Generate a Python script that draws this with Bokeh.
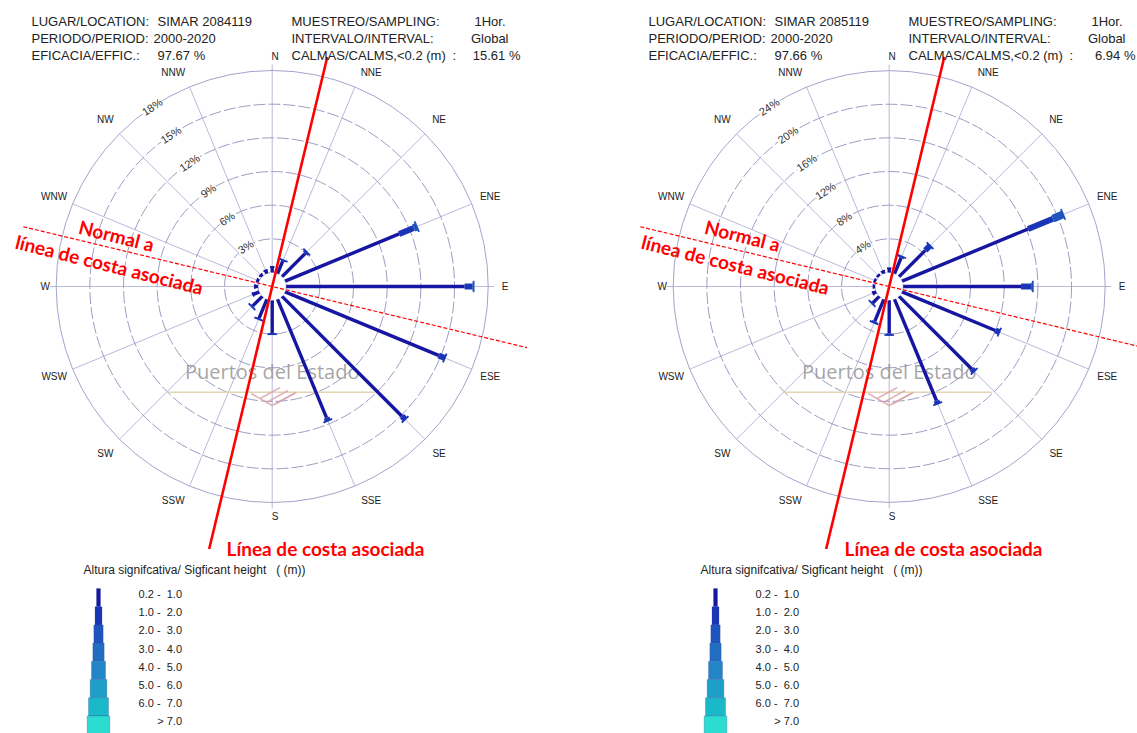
import math
from bokeh.plotting import figure
from bokeh.models import Range1d
from bokeh.embed import file_html
from bokeh.resources import INLINE
from bokeh.core.properties import value

# ---------------- data ----------------
directions = ["N", "NNE", "NE", "ENE", "E", "ESE", "SE", "SSE",
              "S", "SSW", "SW", "WSW", "W", "WNW", "NW", "NNW"]

NB = "\u00a0"
height_classes = ["0.2 -" + NB * 2 + "1.0", "1.0 -" + NB * 2 + "2.0", "2.0 -" + NB * 2 + "3.0",
                  "3.0 -" + NB * 2 + "4.0", "4.0 -" + NB * 2 + "5.0", "5.0 -" + NB * 2 + "6.0",
                  "6.0 -" + NB * 2 + "7.0", ">" + NB + "7.0"]
class_colors = ["#1616a2", "#1a36b6", "#1e54bd", "#216dc2", "#2285c6",
                "#1e9fc8", "#1ab9ca", "#2cdcd0"]

# Station 1 (left)
st1_location = "SIMAR 2084119"
st1_period = "2000-2020"
st1_efficacy = "97.67 %"
st1_sampling = "1Hor."
st1_interval = "Global"
st1_calms = "15.61 %"
st1_rings = [3, 6, 9, 12, 15, 18]
st1_hs_02_10 = [0.5, 1.2, 2.9, 11.0, 15.9, 14.8, 15.1, 11.4, 2.9, 1.8, 1.2, 0.6, 0.3, 0.2, 0.2, 0.3]
st1_hs_10_20 = [0.0, 0.1, 0.2, 1.4, 0.7, 0.6, 0.4, 0.3, 0.1, 0.1, 0.1, 0.0, 0.0, 0.0, 0.0, 0.0]
st1_hs_20_30 = [0.0, 0.0, 0.0, 0.3, 0.1, 0.0, 0.0, 0.0, 0.0, 0.0, 0.0, 0.0, 0.0, 0.0, 0.0, 0.0]

# Station 2 (right)
st2_location = "SIMAR 2085119"
st2_period = "2000-2020"
st2_efficacy = "97.66 %"
st2_sampling = "1Hor."
st2_interval = "Global"
st2_calms = "6.94 %"
st2_rings = [4, 8, 12, 16, 20, 24]
st2_hs_02_10 = [0.5, 2.0, 4.4, 16.2, 14.0, 12.0, 12.2, 13.0, 3.9, 2.8, 1.1, 0.4, 0.2, 0.2, 0.2, 0.3]
st2_hs_10_20 = [0.0, 0.2, 0.8, 3.2, 1.2, 0.5, 0.4, 0.4, 0.2, 0.2, 0.1, 0.0, 0.0, 0.0, 0.0, 0.0]
st2_hs_20_30 = [0.0, 0.0, 0.0, 1.3, 0.2, 0.0, 0.0, 0.0, 0.0, 0.0, 0.0, 0.0, 0.0, 0.0, 0.0, 0.0]

coast_bearing = 13.5  # associated coastline orientation (deg from N)

legend_title = "Altura signifcativa/ Sigficant height" + NB * 3 + "(" + NB + "(m))"

# ---------------- layout ----------------
W, H = 1137, 733
FONT = value("Liberation Sans")
RED_FONT = value("Lato")

p = figure(width=W, height=H, x_range=Range1d(0, W), y_range=Range1d(H, 0),
           output_backend="svg", toolbar_location=None, min_border=0,
           x_axis_type=None, y_axis_type=None)
p.outline_line_color = None
p.background_fill_color = "white"
p.border_fill_color = "white"

R0 = 14.0     # radius of calm circle
RMAX = 216.0  # outer ring radius
LEG_W = [4, 7, 9.3, 11.3, 14, 16.7, 20, 22.7]
BAR_W = [w * 0.85 for w in LEG_W]


def polar(cx, cy, b, r):
    a = math.radians(b)
    return cx + r * math.sin(a), cy - r * math.cos(a)


def label_pos(cx, cy, b):
    if b % 90 == 0:
        x, y = polar(cx, cy, b, 230)
        return x + 3, y
    bb = b
    if b in (22.5, 202.5):
        bb = b + 2.3
    elif b in (157.5, 337.5):
        bb = b - 2.3
    return polar(cx, cy, bb, 236)


def panel(off, info, rings, classes, annot):
    cx, cy = 271.7 + off, 286.0
    k = (RMAX - R0) / rings[-1]
    bearings = [i * 22.5 for i in range(len(directions))]

    # spokes
    xs0, ys0, xs1, ys1 = [], [], [], []
    for b in bearings:
        x0, y0 = polar(cx, cy, b, R0)
        ext = 6 if b % 90 == 0 else 0
        x1, y1 = polar(cx, cy, b, RMAX + ext)
        xs0.append(x0); ys0.append(y0); xs1.append(x1); ys1.append(y1)
    p.segment(xs0, ys0, xs1, ys1, line_color="#b9b9dc", line_width=1)

    # rings
    p.circle([cx], [cy], radius=R0, fill_color="white", line_color="#a8a8cc",
             line_width=1, line_dash="3 2")
    for rv in rings[:-1]:
        p.circle([cx], [cy], radius=R0 + k * rv, fill_color=None, line_color="#9c9cc4",
                 line_width=1, line_dash="12 3")
    p.circle([cx], [cy], radius=R0 + k * rings[-1], fill_color=None,
             line_color="#a4a4cc", line_width=1)

    # compass labels
    lx, ly = [], []
    for b in bearings:
        x, y = label_pos(cx, cy, b)
        lx.append(x); ly.append(y)
    p.text(lx, ly, text=directions, text_font=FONT, text_font_size="10px",
           text_color="#222222", text_align="center", text_baseline="middle")

    # ring labels
    rx, ry, rt = [], [], []
    for rv in rings:
        x, y = polar(cx, cy, -33.75, R0 + k * rv)
        rx.append(x); ry.append(y); rt.append(f"{rv}%")
    p.text(rx, ry, text=rt, angle=33.75, angle_units="deg", text_font=FONT,
           text_font_size="11px", text_color="#333333", text_align="center",
           text_baseline="middle", background_fill_color="white", padding=1)

    # watermark
    p.text([cx], [cy + 85], text=["Puertos del Estado"], text_font=value("Open Sans"),
           text_font_size="20px", text_color="#959595", text_alpha=0.85,
           text_align="center", text_baseline="middle")
    p.segment([cx - 105], [cy + 105.7], [cx + 103], [cy + 105.7],
              line_color="#e2d4b4", line_width=1.5)
    p.multi_line([[cx - 21, cx, cx + 24], [cx - 12, cx + 8], [cx - 4, cx + 16], [cx + 4, cx + 22]],
                 [[cy + 107, cy + 119, cy + 106], [cy + 112, cy + 101], [cy + 115, cy + 104], [cy + 117, cy + 107]],
                 line_color="#d9a2ab", line_width=1.6, line_alpha=0.8)

    # bars
    sx0, sy0, sx1, sy1, sw, sc = [], [], [], [], [], []
    cx0, cy0, cx1, cy1, cw, cc = [], [], [], [], [], []
    for i, b in enumerate(bearings):
        acc = 0.0
        last = 0
        for j, cls in enumerate(classes):
            v = cls[i]
            if v <= 0:
                continue
            ra = R0 + k * acc
            acc += v
            rb = R0 + k * acc
            x0, y0 = polar(cx, cy, b, ra)
            x1, y1 = polar(cx, cy, b, rb)
            sx0.append(x0); sy0.append(y0); sx1.append(x1); sy1.append(y1)
            sw.append(BAR_W[j]); sc.append(class_colors[j])
            last = j
        rt_ = R0 + k * acc
        tx, ty = polar(cx, cy, b, rt_)
        half = (4.5 if acc < 0.8 else BAR_W[last] + 3.5) / 2
        a = math.radians(b)
        px, py = math.cos(a), math.sin(a)
        cx0.append(tx - half * px); cy0.append(ty - half * py)
        cx1.append(tx + half * px); cy1.append(ty + half * py)
        cw.append(1.8); cc.append(class_colors[last])
    p.segment(sx0, sy0, sx1, sy1, line_width=sw, line_color=sc, line_cap="butt")
    p.segment(cx0, cy0, cx1, cy1, line_width=cw, line_color=cc, line_cap="butt")

    # coastline annotations
    x0, y0 = polar(cx, cy, coast_bearing, 236)
    x1, y1 = polar(cx, cy, coast_bearing + 180, 270)
    p.segment([x0], [y0], [x1], [y1], line_color="#ff0000", line_width=2.6)
    x0, y0 = polar(cx, cy, coast_bearing + 270, 256)
    x1, y1 = polar(cx, cy, coast_bearing + 90, 262)
    p.segment([x0], [y0], [x1], [y1], line_color="#ff0000", line_width=1.2, line_dash="4 2")
    (nx, ny), (lx2, ly2), (bx, by) = annot
    p.text([nx, lx2], [ny, ly2], text=["Normal a", "línea de costa asociada"],
           angle=-14, angle_units="deg", text_font=RED_FONT, text_font_style="bold",
           text_font_size="19px", text_color="#ff0000", text_align="center",
           text_baseline="middle")
    p.text([bx], [by], text=["Línea de costa asociada"], text_font=RED_FONT,
           text_font_style="bold", text_font_size="19px", text_color="#ff0000",
           text_align="center", text_baseline="alphabetic")

    # header
    name, period, eff, samp, interval, calms = info
    ys = [21, 38, 54.5]
    p.text([31 + off] * 3, ys, text=["LUGAR/LOCATION:", "PERIODO/PERIOD:", "EFICACIA/EFFIC.:"],
           text_font=FONT, text_font_size="13px", text_color="#222222",
           text_baseline="alphabetic")
    p.text([157 + off, 153 + off, 157 + off], ys, text=[name, period, eff],
           text_font=FONT, text_font_size="13px", text_color="#222222",
           text_baseline="alphabetic")
    p.text([291 + off] * 3 + [452 + off], ys + [54.5],
           text=["MUESTREO/SAMPLING:", "INTERVALO/INTERVAL:", "CALMAS/CALMS,<0.2 (m)", ":"],
           text_font=FONT, text_font_size="13px", text_color="#222222",
           text_baseline="alphabetic")
    p.text([505 + off, 508 + off, min(520 + off, 1135)], ys, text=[samp, interval, calms],
           text_font=FONT, text_font_size="13px", text_color="#222222",
           text_align="right", text_baseline="alphabetic")

    # legend
    p.text([83 + off], [569], text=[legend_title], text_font=FONT, text_font_size="12px",
           text_color="#222222", text_baseline="alphabetic")
    step = 18.2
    tops = [588 + step * i for i in range(len(height_classes))]
    p.quad(left=[98 + off - w / 2 for w in LEG_W], right=[98 + off + w / 2 for w in LEG_W],
           top=tops, bottom=[t + step for t in tops], fill_color=class_colors,
           line_color="#3a4a9a", line_alpha=0.35, line_width=0.8)
    p.text([181.5 + off] * len(height_classes), [t + 5.5 for t in tops], text=height_classes,
           text_font=FONT, text_font_size="11px", text_color="#222222",
           text_align="right", text_baseline="middle")


panel(0, (st1_location, st1_period, st1_efficacy, st1_sampling, st1_interval, st1_calms),
      st1_rings, [st1_hs_02_10, st1_hs_10_20, st1_hs_20_30],
      ((116, 235), (109, 264), (325, 548)))
panel(617, (st2_location, st2_period, st2_efficacy, st2_sampling, st2_interval, st2_calms),
      st2_rings, [st2_hs_02_10, st2_hs_10_20, st2_hs_20_30],
      ((742, 235), (735, 264), (943, 548)))

open("out.html", "w").write(file_html(p, INLINE))
